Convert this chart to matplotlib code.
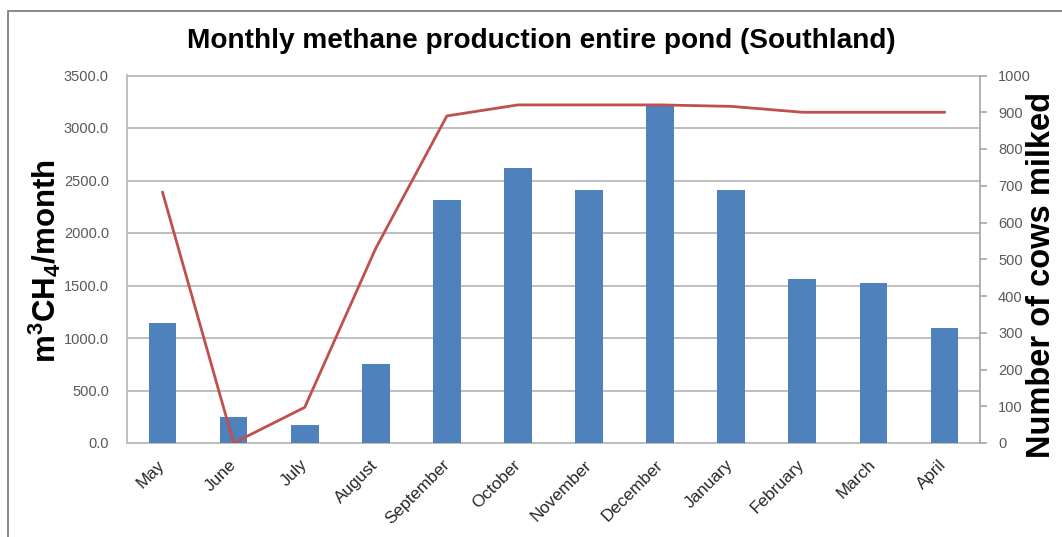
import matplotlib
matplotlib.use("Agg")
import matplotlib.pyplot as plt
from matplotlib.patches import Rectangle
import numpy as np

months = ["May", "June", "July", "August", "September", "October",
          "November", "December", "January", "February", "March", "April"]
methane_m3 = [1140, 245, 168, 755, 2313, 2615, 2411, 3214, 2405, 1558, 1523, 1098]
cows_milked = [682, 0, 97, 530, 890, 920, 920, 920, 916, 900, 900, 900]

left_ticks = np.arange(0, 3501, 500)
right_ticks = np.arange(0, 1001, 100)

BAR_COLOR = "#4F81BD"
LINE_COLOR = "#C0504D"
GRID_COLOR = "#BEBEBE"
TICK_COLOR = "#595959"

plt.rcParams["font.family"] = ["Liberation Sans", "DejaVu Sans"]
plt.rcParams["mathtext.fontset"] = "custom"
plt.rcParams["mathtext.rm"] = "Liberation Sans"
plt.rcParams["mathtext.bf"] = "Liberation Sans:bold"

W, H = 1062, 537
fig = plt.figure(figsize=(W / 100, H / 100), dpi=100)
fig.patch.set_facecolor("white")

# outer chart frame (runs off the right and bottom edges)
fig.patches.append(Rectangle((8 / W, -0.1), 1.2, 1 - 11 / H + 0.1,
                             transform=fig.transFigure, fill=False,
                             edgecolor="#808080", linewidth=1.3))

x0, x1 = 127 / W, 980 / W
y0, y1 = 1 - 443 / H, 1 - 75.5 / H
ax = fig.add_axes([x0, y0, x1 - x0, y1 - y0])
ax2 = ax.twinx()

x = np.arange(len(months))
ax.bar(x, methane_m3, width=0.39, color=BAR_COLOR, zorder=3)
ax.set_xlim(-0.5, len(months) - 0.5)
ax.set_ylim(0, 3500)
ax.set_yticks(left_ticks)
ax.set_yticklabels([f"{v:.1f}" for v in left_ticks])
ax.yaxis.grid(True, color=GRID_COLOR, linewidth=1.4, zorder=0)
ax.set_axisbelow(True)
ax.tick_params(axis="y", length=0, pad=13, labelsize=10.5, labelcolor=TICK_COLOR)
ax.set_xticks(x)
ax.set_xticklabels(months, rotation=45, ha="right", va="center",
                   rotation_mode="anchor", fontsize=12.3, color="#262626")
ax.tick_params(axis="x", length=0, pad=14)
ax.spines["right"].set_visible(False)
for side in ("left", "bottom", "top"):
    ax.spines[side].set_color(GRID_COLOR)
    ax.spines[side].set_linewidth(1.4)

ax2.plot(x, cows_milked, color=LINE_COLOR, linewidth=2.0, zorder=4)
ax2.set_ylim(0, 1000)
ax2.set_yticks(right_ticks)
ax2.tick_params(axis="y", length=5, width=1.2, color="#A6A6A6", pad=8,
                labelsize=10.5, labelcolor=TICK_COLOR)
for side in ("top", "left", "bottom"):
    ax2.spines[side].set_visible(False)
ax2.spines["right"].set_color("#A6A6A6")
ax2.spines["right"].set_linewidth(1.2)

fig.text(541 / W, 1 - 41 / H, "Monthly methane production entire pond (Southland)",
         ha="center", va="center", fontsize=20.2, fontweight="bold")
fig.text(45 / W, 1 - 261 / H, r"$\mathbf{m^{3}CH_{4}/month}$",
         ha="center", va="center", rotation=90, fontsize=22.5)
fig.text(1042 / W, 1 - 275 / H, "Number of cows milked",
         ha="center", va="center", rotation=90, fontsize=23.5, fontweight="bold")

fig.savefig("out.png", dpi=100)
